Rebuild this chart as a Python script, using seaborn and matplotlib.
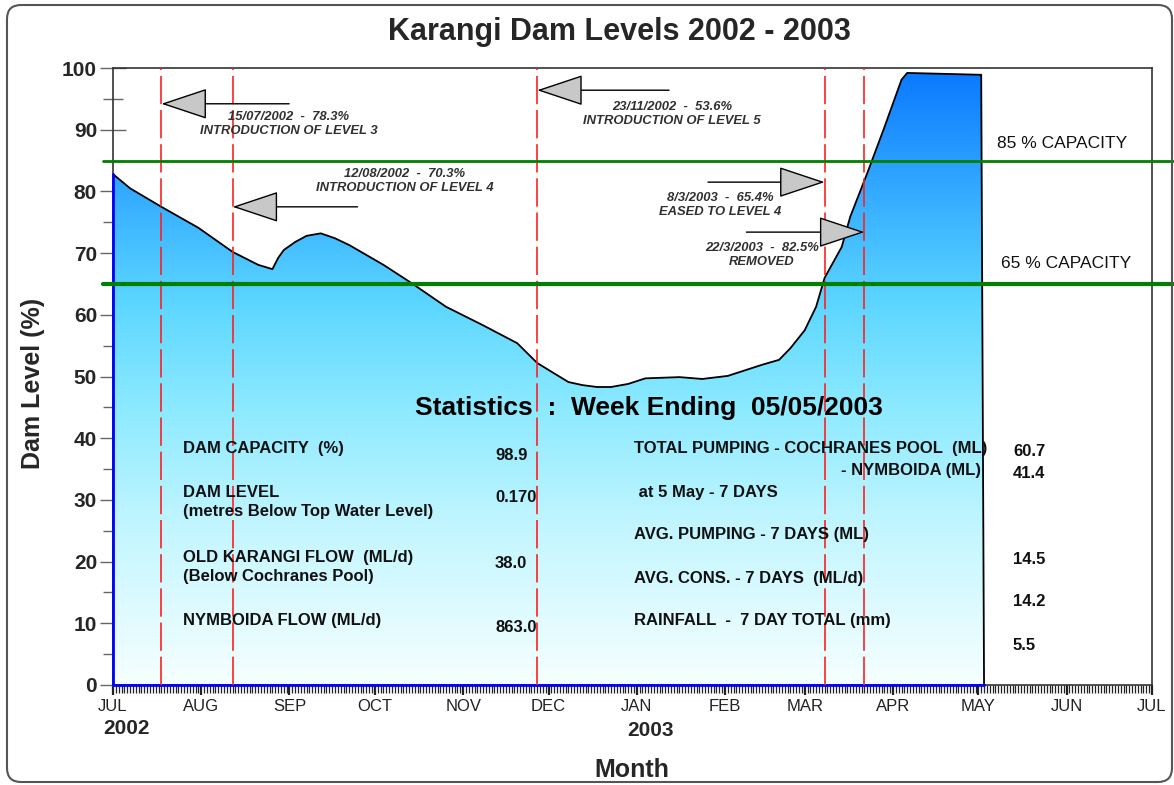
import numpy as np
import pandas as pd
import matplotlib
matplotlib.use('Agg')
import matplotlib.pyplot as plt
import matplotlib.dates as mdates
from matplotlib.colors import LinearSegmentedColormap
from matplotlib.patches import FancyBboxPatch
import seaborn as sns

# dam level curve
dates = ['2002-07-01', '2002-07-07', '2002-07-18', '2002-07-31', '2002-08-12', '2002-08-21',
         '2002-08-26', '2002-08-28', '2002-08-30', '2002-09-03', '2002-09-07', '2002-09-12',
         '2002-09-17', '2002-09-22', '2002-10-04', '2002-10-14', '2002-10-26', '2002-11-08',
         '2002-11-20', '2002-11-27', '2002-12-03', '2002-12-08', '2002-12-13', '2002-12-18',
         '2002-12-23', '2002-12-29', '2003-01-04', '2003-01-16', '2003-01-24', '2003-02-02',
         '2003-02-14', '2003-02-20', '2003-02-24', '2003-03-01', '2003-03-05', '2003-03-08',
         '2003-03-14', '2003-03-17', '2003-03-23', '2003-03-29', '2003-04-04', '2003-04-06',
         '2003-05-02', '2003-05-03']
levels = [82.8, 80.5, 77.5, 74.1, 70.2, 68.1,
          67.4, 69.2, 70.5, 71.8, 72.8, 73.2,
          72.4, 71.3, 68.1, 65.1, 61.3, 58.3,
          55.4, 52.2, 50.5, 49.1, 48.6, 48.3,
          48.3, 48.8, 49.7, 49.9, 49.6, 50.1,
          51.9, 52.7, 54.6, 57.5, 61.3, 66.0,
          71.0, 75.9, 83.0, 90.4, 98.1, 99.2,
          98.9, 0.0]

# restriction changes
event_dates = ['2002-07-18', '2002-08-12', '2002-11-27', '2003-03-08', '2003-03-22']
event_arrow_y = [94.2, 77.5, 96.4, 81.5, 73.4]
event_text = ['15/07/2002  -  78.3%\nINTRODUCTION OF LEVEL 3',
              '12/08/2002  -  70.3%\nINTRODUCTION OF LEVEL 4',
              '23/11/2002  -  53.6%\nINTRODUCTION OF LEVEL 5',
              '8/3/2003  -  65.4%\nEASED TO LEVEL 4',
              '22/3/2003  -  82.5%\nREMOVED']

capacity_levels = [85, 65]
capacity_labels = ['85 % CAPACITY', '65 % CAPACITY']

stats_left_labels = ['DAM CAPACITY  (%)',
                     'DAM LEVEL\n(metres Below Top Water Level)',
                     'OLD KARANGI FLOW  (ML/d)\n(Below Cochranes Pool)',
                     'NYMBOIDA FLOW (ML/d)']
stats_left_values = ['98.9', '0.170', '38.0', '863.0']
stats_right_labels = ['TOTAL PUMPING - COCHRANES POOL  (ML)',
                      ' at 5 May - 7 DAYS',
                      'AVG. PUMPING - 7 DAYS (ML)',
                      'AVG. CONS. - 7 DAYS  (ML/d)',
                      'RAINFALL  -  7 DAY TOTAL (mm)']
stats_right_values = ['60.7', '41.4', '14.5', '14.2', '5.5']

sns.set_theme(style='white')
plt.rcParams['font.family'] = ['Liberation Sans', 'DejaVu Sans']

W, H = 1174, 785
fig = plt.figure(figsize=(W / 100, H / 100), dpi=100)
ax = fig.add_axes([113 / W, 1 - 685 / H, (1152 - 113) / W, (685 - 68) / H])


def px(x, y):
    return x / W, 1 - y / H


df = pd.DataFrame({'date': pd.to_datetime(dates), 'level': levels})
start, end = pd.Timestamp('2002-07-01'), pd.Timestamp('2003-07-01')

# gradient fill under the curve
cmap = LinearSegmentedColormap.from_list('water', [
    (0.0, '#f6ffff'), (0.25, '#c4f6ff'), (0.45, '#8ceaff'),
    (0.62, '#5cd6ff'), (0.78, '#38b0ff'), (1.0, '#0a78ff')])
grad = np.linspace(0, 1, 256).reshape(-1, 1)
x0, x1 = mdates.date2num(start), mdates.date2num(end)
im = ax.imshow(grad, extent=[x0, x1, 0, 100], origin='lower', aspect='auto',
               cmap=cmap, zorder=1)
poly = ax.fill_between(df['date'], df['level'], 0, facecolor='none', edgecolor='none')
im.set_clip_path(poly.get_paths()[0], transform=ax.transData)

sns.lineplot(data=df, x='date', y='level', color='black', lw=1.3, ax=ax, zorder=4)
ax.plot([df['date'].iloc[0]] * 2, [0, levels[0]], color='blue', lw=2, zorder=5, clip_on=False)
ax.plot([df['date'].iloc[0], df['date'].iloc[-1]], [0, 0], color='blue', lw=2, zorder=5, clip_on=False)

# capacity lines
for lvl, lw in zip(capacity_levels, [2, 3]):
    ax.axhline(lvl, xmin=-0.01, xmax=1.02, color='#008000', lw=lw, zorder=6, clip_on=False)
fig.text(*px(1062, 144), capacity_labels[0], ha='center', va='center', fontsize=12.5, color='#111111')
fig.text(*px(1066, 264), capacity_labels[1], ha='center', va='center', fontsize=12.5, color='#111111')

# restriction markers
text_pos = [(289, 124), (405, 181), (672, 114), (720, 205), (762, 255)]
arrow_dx = [92, 90, 95, -84, -85]
for d, y, txt, (tx, ty), dx in zip(event_dates, event_arrow_y, event_text, text_pos, arrow_dx):
    d = pd.Timestamp(d)
    ax.axvline(d, color='#ff2020', lw=1.2, linestyle=(0, (17, 3.5)), zorder=5)
    ax.annotate('', xy=(d, y), xytext=(dx, 0), textcoords='offset points',
                arrowprops=dict(arrowstyle='-|>,head_length=3.0,head_width=1.0',
                                mutation_scale=10, facecolor='#c8c8c8', edgecolor='black',
                                lw=1.0, shrinkA=0, shrinkB=0), zorder=7)
    fig.text(*px(tx, ty), txt, ha='center', va='center', fontsize=9.4, style='italic',
             fontweight='bold', color='#303030', linespacing=1.25)

# statistics block
fs = 12
fig.text(*px(649, 408), 'Statistics  :  Week Ending  05/05/2003', ha='center', va='center',
         fontsize=19, fontweight='bold', color='black')
left_y = [449, 502, 567, 621]
left_val_y = [455, 498, 563, 627]
for lab, val, ly, vy in zip(stats_left_labels, stats_left_values, left_y, left_val_y):
    fig.text(*px(183, ly), lab, ha='left', va='center', fontsize=fs, fontweight='bold',
             color='#111111', linespacing=1.4)
    fig.text(*px(495, vy), val, ha='left', va='center', fontsize=fs, fontweight='bold',
             color='#111111')
right_y = [449, 492, 534, 578, 620]
for lab, ry in zip(stats_right_labels, right_y):
    fig.text(*px(634, ry), lab, ha='left', va='center', fontsize=fs, fontweight='bold',
             color='#111111')
fig.text(*px(981, 470), '- NYMBOIDA (ML)', ha='right', va='center', fontsize=fs,
         fontweight='bold', color='#111111')
for val, vy in zip(stats_right_values, [451, 474, 559, 602, 646]):
    fig.text(*px(1013, vy), val, ha='left', va='center', fontsize=fs, fontweight='bold',
             color='#111111')

# axes
ax.set_xlim(start, end)
ax.set_ylim(0, 100)
ax.set_yticks(range(0, 101, 10))
ax.set_yticks(range(5, 100, 10), minor=True)
ax.tick_params(axis='y', which='major', direction='inout', length=19, width=1, color='#666666',
               labelsize=15, pad=2, left=True)
ax.tick_params(axis='y', which='minor', direction='inout', length=14, width=1, color='#666666', left=True)
for t in ax.get_yticklabels():
    t.set_fontweight('bold')
ax.xaxis.set_major_locator(mdates.MonthLocator())
ax.xaxis.set_major_formatter(mdates.DateFormatter('%b'))
ax.xaxis.set_minor_locator(mdates.DayLocator())
ax.tick_params(axis='x', which='major', direction='out', length=7, width=1.6, color='#222222',
               labelsize=12, pad=3, bottom=True)
ax.tick_params(axis='x', which='minor', direction='out', length=6, width=0.9, color='#222222', bottom=True)
fig.canvas.draw()
ax.set_xticklabels([t.get_text().upper() for t in ax.get_xticklabels()], color='#222222')
for s in ax.spines.values():
    s.set_color('#333333')
    s.set_linewidth(1.2)
ax.set_xlabel('')
ax.set_ylabel('')
ax.grid(False)

fig.text(*px(619, 32), 'Karangi Dam Levels 2002 - 2003', ha='center', va='center',
         fontsize=22, fontweight='bold')
fig.text(*px(33, 383), 'Dam Level (%)', ha='center', va='center', rotation=90,
         fontsize=18, fontweight='bold')
fig.text(*px(632, 770), 'Month', ha='center', va='center', fontsize=18, fontweight='bold')
fig.text(*px(126, 729), '2002', ha='center', va='center', fontsize=15, fontweight='bold')
fig.text(*px(650, 731), '2003', ha='center', va='center', fontsize=15, fontweight='bold')

fig.patches.append(FancyBboxPatch((7, 3), 1165, 777, boxstyle='round,pad=0,rounding_size=14',
                                  transform=None, facecolor='none', edgecolor='#555555',
                                  lw=1.5, figure=fig))

fig.savefig('out.png', dpi=100)
